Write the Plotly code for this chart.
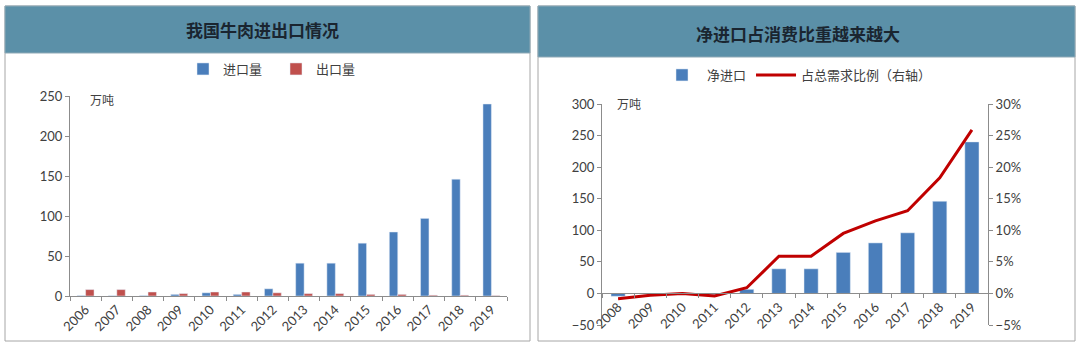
import plotly.graph_objects as go

# ---- data ----
years_trade = ["2006", "2007", "2008", "2009", "2010", "2011", "2012",
               "2013", "2014", "2015", "2016", "2017", "2018", "2019"]
imports = [0.5, 0.3, 0.5, 2, 4, 2, 9, 41, 41, 66, 80, 97, 146, 240]
exports = [8, 8, 5, 3, 5, 5, 4, 3, 3, 2, 2, 1, 1, 0.5]

years_net = ["2008", "2009", "2010", "2011", "2012", "2013",
             "2014", "2015", "2016", "2017", "2018", "2019"]
net_imports = [-4.5, -1, -1, -2, 6.5, 39, 39, 65, 80, 96, 146, 240]
share_of_demand = [-0.0085, -0.003, 0.0, -0.004, 0.009, 0.059,
                   0.059, 0.095, 0.115, 0.131, 0.183, 0.259]

W, H = 1080, 347
BLUE = "#4a7ebb"
RED = "#c0504d"
LINE_RED = "#c00000"
BAND = "#5b90a8"
AXIS = "#8c8c8c"
TXT = "#404040"
CJK = "Noto Sans CJK SC"
NUM = "Lato, Liberation Sans, sans-serif"


def px_x(p):
    return p / W


def px_y(p):
    return 1 - p / H


fig = go.Figure()

# ---- left: beef imports / exports ----
fig.add_trace(go.Bar(x=years_trade, y=imports, name="进口量", marker_color=BLUE,
                     xaxis="x", yaxis="y", legend="legend"))
fig.add_trace(go.Bar(x=years_trade, y=exports, name="出口量", marker_color=RED,
                     xaxis="x", yaxis="y", legend="legend"))

# ---- right: net imports and share of total demand ----
fig.add_trace(go.Bar(x=years_net, y=net_imports, name="净进口", marker_color=BLUE,
                     width=0.44, xaxis="x2", yaxis="y2", legend="legend2"))
fig.add_trace(go.Scatter(x=years_net, y=share_of_demand, name="占总需求比例（右轴）",
                         mode="lines", line=dict(color=LINE_RED, width=3),
                         xaxis="x2", yaxis="y3", legend="legend2"))

tick_font = dict(family=NUM, size=13, color=TXT)

left_ydom = [px_y(296), px_y(96)]
right_ydom = [px_y(325), px_y(104)]
zero_pos = right_ydom[0] + (right_ydom[1] - right_ydom[0]) * 50 / 350

axis_common = dict(showgrid=False, zeroline=False, showline=True, linecolor=AXIS,
                   linewidth=1, ticks="outside", tickcolor=AXIS, ticklen=4,
                   tickfont=tick_font, automargin=False)

fig.update_layout(
    width=W, height=H,
    margin=dict(l=0, r=0, t=0, b=0),
    paper_bgcolor="white", plot_bgcolor="rgba(0,0,0,0)",
    barmode="group", bargap=0.46, bargroupgap=0,
    xaxis=dict(domain=[px_x(70), px_x(507)], anchor="y", type="category",
               tickson="boundaries", tickangle=-45, **axis_common),
    yaxis=dict(domain=left_ydom, anchor="x", range=[0, 250], dtick=50,
               **axis_common),
    xaxis2=dict(domain=[px_x(602), px_x(988)], anchor="free", position=zero_pos,
                type="category", tickson="boundaries", tickangle=-45,
                **axis_common),
    yaxis2=dict(domain=right_ydom, anchor="x2", range=[-50, 300], dtick=50,
                **axis_common),
    yaxis3=dict(domain=right_ydom, anchor="x2", overlaying="y2", side="right",
                range=[-0.05, 0.30], dtick=0.05, tickformat=".0%", **axis_common),
    legend=dict(orientation="h", x=px_x(276), y=px_y(69), xanchor="center",
                yanchor="middle", font=dict(family=CJK, size=13, color=TXT),
                bgcolor="rgba(0,0,0,0)", itemwidth=30, entrywidth=48,
                entrywidthmode="pixels", tracegroupgap=0),
    legend2=dict(orientation="h", x=px_x(797), y=px_y(75), xanchor="center",
                 yanchor="middle", font=dict(family=CJK, size=13, color=TXT),
                 bgcolor="rgba(0,0,0,0)", itemwidth=40),
    showlegend=True,
)

# panel frames and title bands
shapes = []
for x0, x1, band_bottom in [(5, 530, 53), (538, 1075, 57)]:
    shapes.append(dict(type="rect", xref="paper", yref="paper",
                       x0=px_x(x0), x1=px_x(x1), y0=px_y(341), y1=px_y(6),
                       line=dict(color="#a6a6a6", width=1), fillcolor="white",
                       layer="below"))
    shapes.append(dict(type="rect", xref="paper", yref="paper",
                       x0=px_x(x0), x1=px_x(x1), y0=px_y(band_bottom), y1=px_y(6),
                       line=dict(color="#8fa9b6", width=1), fillcolor=BAND,
                       layer="below"))
fig.update_layout(shapes=shapes)

title_font = dict(family=CJK, size=17, color="#1a2530")
unit_font = dict(family=CJK, size=12, color=TXT)
fig.update_layout(annotations=[
    dict(text="<b>我国牛肉进出口情况</b>", xref="paper", yref="paper",
         x=px_x(262), y=px_y(30), xanchor="center", yanchor="middle",
         showarrow=False, font=title_font),
    dict(text="<b>净进口占消费比重越来越大</b>", xref="paper", yref="paper",
         x=px_x(798), y=px_y(33), xanchor="center", yanchor="middle",
         showarrow=False, font=title_font),
    dict(text="万吨", xref="paper", yref="paper", x=px_x(88), y=px_y(100),
         xanchor="left", yanchor="middle", showarrow=False, font=unit_font),
    dict(text="万吨", xref="paper", yref="paper", x=px_x(615), y=px_y(104),
         xanchor="left", yanchor="middle", showarrow=False, font=unit_font),
])

fig.write_html("out.html")
